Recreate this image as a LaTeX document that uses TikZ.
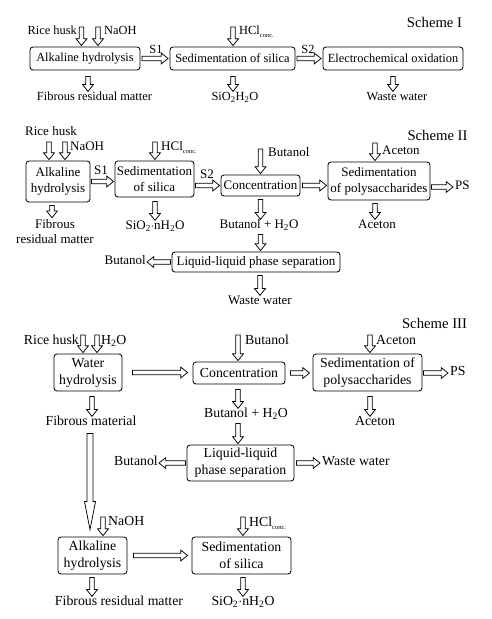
\documentclass[tikz,border=0pt]{standalone}
\usepackage{fontspec}
\setmainfont{Liberation Serif}
\usetikzlibrary{calc}
\newcommand{\HClc}{HCl\raisebox{-0.55ex}{\fontsize{6.5}{7}\selectfont conc.}}
\tikzset{
  arrsw/.store in=\arrsw, arrhw/.store in=\arrhw, arrhl/.store in=\arrhl,
  gapA/.store in=\gapA, gapB/.store in=\gapB,
  arrsw=2.3, arrhw=5.4, arrhl=6.8, gapA=0, gapB=1,
  hol/.style={draw, fill=white, line width=0.75pt, line join=miter,
    to path={let \p1=(\tikztostart), \p2=(\tikztotarget),
      \n1={atan2(\y2-\y1,\x2-\x1)},
      \n2={veclen(\x2-\x1,\y2-\y1)-\gapA-\gapB},
      \p3=($(\p1)+(\n1:\gapA pt)$),
      \p4=($(\p3)+(\n1:{\n2-\arrhl pt})$),
      \p5=($(\p3)+(\n1:\n2)$)
      in ($(\p3)+(\n1+90:\arrsw pt)$) -- ($(\p4)+(\n1+90:\arrsw pt)$)
      -- ($(\p4)+(\n1+90:\arrhw pt)$) -- (\p5)
      -- ($(\p4)+(\n1-90:\arrhw pt)$) -- ($(\p4)+(\n1-90:\arrsw pt)$)
      -- ($(\p3)+(\n1-90:\arrsw pt)$) -- cycle}},
  box/.style={draw, rounded corners=3pt, line width=0.85pt, inner sep=0pt, align=center},
  txt/.style={inner sep=0pt, text height=0.68em, text depth=0.2em},
  ttl/.style={inner sep=0pt, font=\fontsize{14.7}{16}\selectfont},
}
\begin{document}
\begin{tikzpicture}[x=1pt,y=-1pt]
\useasboundingbox (0,0) rectangle (492,619);
% ---------------- Scheme I ----------------
\begin{scope}[every node/.append style={font=\fontsize{12.4}{14.5}\selectfont}]
\node[ttl] (sch1) at (434.5,22) {Scheme I};
\node[box, minimum width=110pt, minimum height=23pt] (alk1) at (85,58.5) {Alkaline hydrolysis};
\node[box, minimum width=125pt, minimum height=23pt] (sed1) at (232.5,58.5) {Sedimentation of silica};
\node[box, minimum width=140pt, minimum height=23pt] (ele1) at (393,58.5) {Electrochemical oxidation};
\node[txt, anchor=east] (rh1) at (77,32) {Rice husk};
\node[txt, anchor=west] (na1) at (104,32) {NaOH};
\node[txt, anchor=west] (hc1) at (239,32) {\HClc};
\coordinate (a1a) at (81.5,27);
\coordinate (a1b) at (98,27);
\coordinate (a1c) at (233,27);
\draw[hol] (a1a) to (a1a |- alk1.north);
\draw[hol] (a1b) to (a1b |- alk1.north);
\draw[hol] (a1c) to (a1c |- sed1.north);
\draw[hol, gapA=1.5, gapB=1.5, arrsw=2.2] (alk1.east) to (sed1.west);
\draw[hol, gapA=1.5, gapB=1.5, arrsw=2.2] (sed1.east) to (ele1.west);
\node[txt] (s11) at (156,51) {S1};
\node[txt] (s21) at (308,51) {S2};
\node[txt] (fib1) at (94.5,98) {Fibrous residual matter};
\node[txt] (si1) at (235,98) {SiO\textsubscript{2}H\textsubscript{2}O};
\node[txt] (ww1) at (397,98) {Waste water};
\draw[hol, gapA=6, gapB=2] ([xshift=3pt]alk1.south) to ([xshift=3pt]alk1.south |- fib1.north);
\draw[hol, gapA=6, gapB=2] ([xshift=0.5pt]sed1.south) to ([xshift=0.5pt]sed1.south |- si1.north);
\draw[hol, gapA=6, gapB=2] (ele1.south) to (ele1.south |- ww1.north);
\end{scope}
% ---------------- Scheme II ----------------
\begin{scope}[every node/.append style={font=\fontsize{13}{16}\selectfont}]
\node[ttl] (sch2) at (437.5,135) {Scheme II};
\node[box, minimum width=64pt, minimum height=41pt] (alk2) at (58,181.5) {Alkaline\\hydrolysis};
\node[box, minimum width=79pt, minimum height=36pt] (sed2) at (154.5,179) {Sedimentation\\of silica};
\node[box, minimum width=79pt, minimum height=21pt] (conc2) at (260.5,185.5) {Concentration};
\node[box, minimum width=102pt, minimum height=38pt] (sedp2) at (379,181) {Sedimentation\\of polysaccharides};
\node[txt] (rh2) at (51,133) {Rice husk};
\node[txt, anchor=west] (na2) at (70,148) {NaOH};
\node[txt, anchor=west] (hc2) at (161,148) {\HClc};
\node[txt, anchor=west] (bu2a) at (268,154) {Butanol};
\node[txt, anchor=west] (ac2a) at (382,152) {Aceton};
\coordinate (a2a) at (49,142);
\coordinate (a2b) at (65,142);
\coordinate (a2c) at (155,142);
\coordinate (a2d) at (260.5,149);
\coordinate (a2e) at (375,143);
\draw[hol] (a2a) to (a2a |- alk2.north);
\draw[hol] (a2b) to (a2b |- alk2.north);
\draw[hol] (a2c) to (a2c |- sed2.north);
\draw[hol] (a2d) to (a2d |- conc2.north);
\draw[hol] (a2e) to (a2e |- sedp2.north);
\draw[hol, gapA=1, gapB=1, arrsw=2.2] (alk2.east) to (alk2.east -| sed2.west);
\draw[hol, gapA=1, gapB=1, arrsw=2.2] (conc2.west -| sed2.east) to (conc2.west);
\draw[hol, gapA=2, gapB=1, arrsw=2.2] (conc2.east) to (conc2.east -| sedp2.west);
\node[txt] (s12) at (101,172) {S1};
\node[txt] (s22) at (207,176) {S2};
\node[txt, anchor=west] (ps2) at (455,187) {PS};
\draw[hol, gapA=1, gapB=2, arrsw=2.2] (sedp2.east |- ps2.west) to (ps2.west);
\node[inner sep=0pt, align=center, font=\fontsize{13}{15}\selectfont] (fib2) at (55,232) {Fibrous\\residual matter};
\node[txt] (si2) at (155,227) {SiO\textsubscript{2}$\cdot$nH\textsubscript{2}O};
\node[txt] (bh2) at (259,226) {Butanol + H\textsubscript{2}O};
\node[txt] (ac2b) at (377,226) {Aceton};
\draw[hol, gapA=3, gapB=2] ([xshift=-6pt]alk2.south) to ([xshift=-6pt]alk2.south |- fib2.north);
\draw[hol, gapA=4, gapB=2] ([xshift=0.5pt]sed2.south) to ([xshift=0.5pt]sed2.south |- si2.north);
\draw[hol, gapA=3, gapB=2] (conc2.south) to (conc2.south |- bh2.north);
\draw[hol, gapA=3, gapB=2] ([xshift=-4pt]sedp2.south) to ([xshift=-4pt]sedp2.south |- ac2b.north);
\node[box, minimum width=168pt, minimum height=20pt] (llps2) at (256,262) {Liquid-liquid phase separation};
\draw[hol, gapA=4, gapB=1] (bh2.south -| conc2.south) to (conc2.south |- llps2.north);
\node[txt, anchor=east] (bu2b) at (146,262) {Butanol};
\draw[hol, gapA=1, gapB=1, arrsw=2.2] (llps2.west) to (bu2b.east);
\node[txt] (ww2) at (260,302) {Waste water};
\draw[hol, gapA=3, gapB=2] (ww2.north |- llps2.south) to (ww2.north);
\end{scope}
% ---------------- Scheme III ----------------
\begin{scope}[every node/.append style={font=\fontsize{13.8}{17}\selectfont}]
\node[ttl] (sch3) at (434.5,323) {Scheme III};
\node[box, minimum width=68pt, minimum height=37pt] (wat3) at (88,372.5) {Water\\hydrolysis};
\node[box, minimum width=92pt, minimum height=22pt] (conc3) at (239,373) {Concentration};
\node[box, minimum width=109pt, minimum height=37pt] (sedp3) at (367.5,372.5) {Sedimentation of\\polysaccharides};
\node[txt, anchor=east] (rh3) at (79,342) {Rice husk};
\node[txt, anchor=west] (h2o3) at (101,342) {H\textsubscript{2}O};
\node[txt, anchor=west] (bu3a) at (245,342) {Butanol};
\node[txt, anchor=west] (ac3a) at (376,342) {Aceton};
\coordinate (a3a) at (83,335);
\coordinate (a3b) at (97,335);
\coordinate (a3c) at (238,335);
\coordinate (a3d) at (370,335);
\draw[hol] (a3a) to (a3a |- wat3.north);
\draw[hol] (a3b) to (a3b |- wat3.north);
\draw[hol] (a3c) to (a3c |- conc3.north);
\draw[hol] (a3d) to (a3d |- sedp3.north);
\draw[hol, gapA=10, gapB=5] (wat3.east) to (wat3.east -| conc3.west);
\draw[hol, gapA=5, gapB=3] (conc3.east) to (conc3.east -| sedp3.west);
\node[txt, anchor=west] (ps3) at (450,373) {PS};
\draw[hol, gapA=1, gapB=2] (sedp3.east |- ps3.west) to (ps3.west);
\node[txt] (fm3) at (91,423) {Fibrous material};
\node[txt] (bh3) at (246,415) {Butanol + H\textsubscript{2}O};
\node[txt] (ac3b) at (375,423) {Aceton};
\draw[hol, gapA=5, gapB=2] ([xshift=4pt]wat3.south) to ([xshift=4pt]wat3.south |- fm3.north);
\draw[hol, gapA=5, gapB=2] ([xshift=-1pt]conc3.south) to ([xshift=-1pt]conc3.south |- bh3.north);
\draw[hol, gapA=5, gapB=2] ([xshift=2.5pt]sedp3.south) to ([xshift=2.5pt]sedp3.south |- ac3b.north);
\node[box, minimum width=107pt, minimum height=36pt] (llps3) at (240.5,463) {Liquid-liquid\\phase separation};
\draw[hol, gapA=4, gapB=1] ([xshift=-1pt]conc3.south |- bh3.south) to ([xshift=-1pt]conc3.south |- llps3.north);
\node[txt, anchor=east] (bu3b) at (158,463) {Butanol};
\node[txt, anchor=west] (ww3) at (322,463) {Waste water};
\draw[hol, gapA=1, gapB=1] (llps3.west) to (bu3b.east);
\draw[hol, gapA=2, gapB=2] (llps3.east) to (ww3.west);
\node[box, minimum width=69pt, minimum height=37pt] (alk3) at (92.5,555.5) {Alkaline\\hydrolysis};
\node[box, minimum width=99pt, minimum height=37pt] (sed3) at (241.5,555.5) {Sedimentation\\of silica};
\draw[hol, gapA=6, gapB=7, arrsw=3, arrhw=5.5, arrhl=28] ([xshift=-1pt]fm3.south) to ([xshift=-1pt]fm3.south |- alk3.north);
\node[txt, anchor=west] (na3) at (108,523) {NaOH};
\node[txt, anchor=west] (hc3) at (249,524) {\HClc};
\coordinate (a3e) at (103,517);
\coordinate (a3f) at (243,517);
\draw[hol] (a3e) to (a3e |- alk3.north);
\draw[hol] (a3f) to (a3f |- sed3.north);
\draw[hol, gapA=6, gapB=4] (alk3.east) to (alk3.east -| sed3.west);
\node[txt] (fib3) at (119,603) {Fibrous residual matter};
\node[txt] (si3) at (243,603) {SiO\textsubscript{2}$\cdot$nH\textsubscript{2}O};
\draw[hol, gapA=3, gapB=2] ([xshift=-0.5pt]alk3.south) to ([xshift=-0.5pt]alk3.south |- fib3.north);
\draw[hol, gapA=3, gapB=2] ([xshift=1.5pt]sed3.south) to ([xshift=1.5pt]sed3.south |- si3.north);
\end{scope}
\end{tikzpicture}
\end{document}
